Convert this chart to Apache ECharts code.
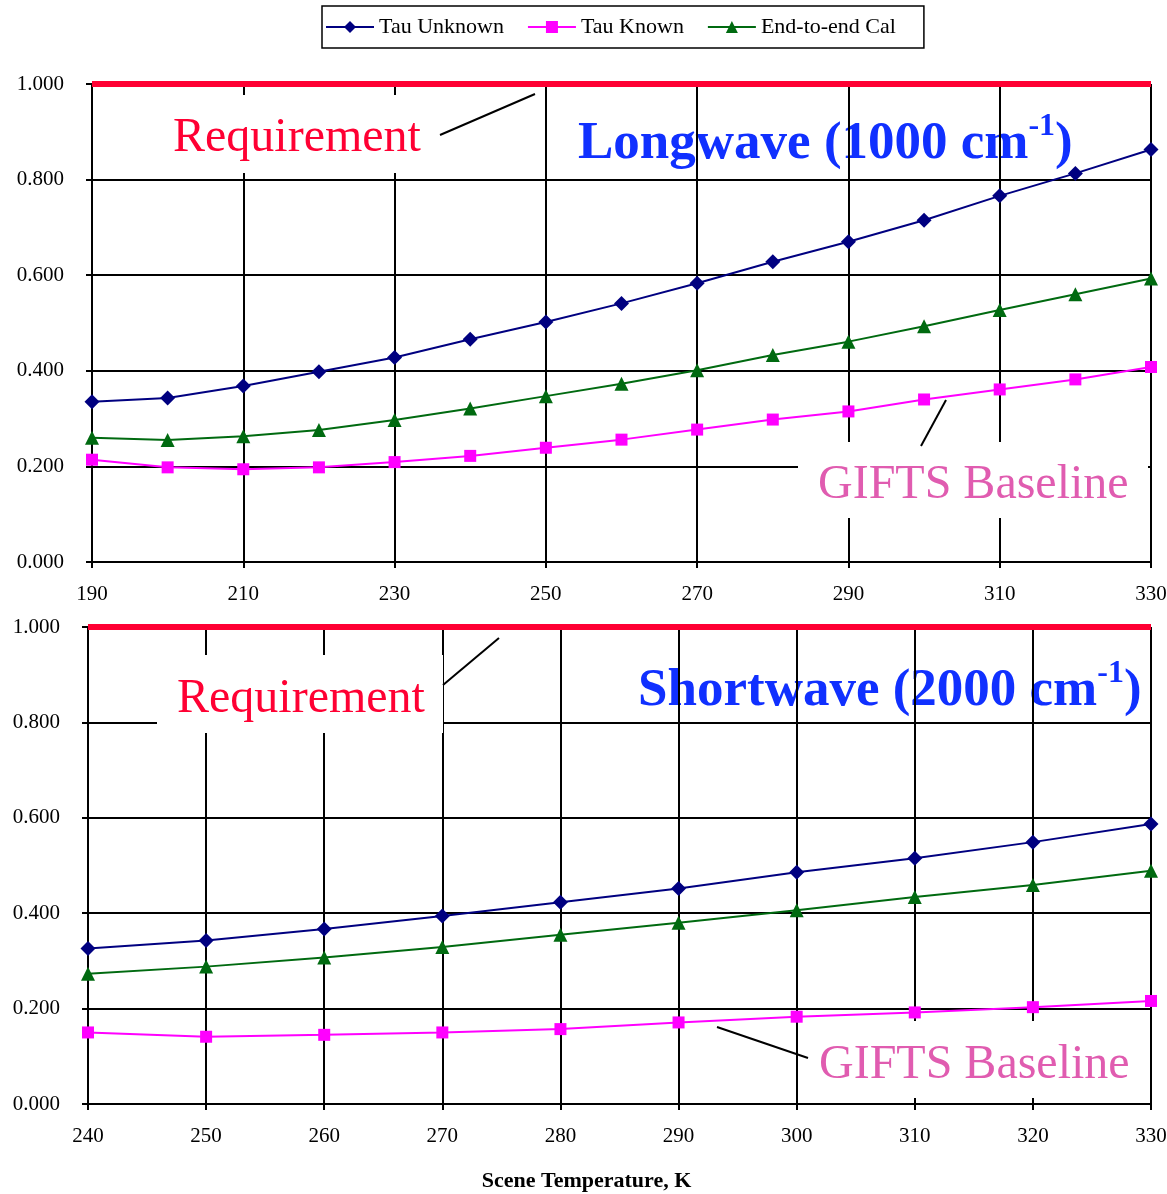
<!DOCTYPE html>
<html>
<head>
<meta charset="utf-8">
<script src="https://cdn.jsdelivr.net/npm/echarts@6/dist/echarts.min.js"></script>
<style>html,body{margin:0;padding:0;background:#fff}#c{width:1167px;height:1194px}</style>
</head>
<body>
<div id="c"></div>
<script>
// ---- data ----
const lwTemps = ['190','200','210','220','230','240','250','260','270','280','290','300','310','320','330'];
const lwTauUnknown = [0.335,0.343,0.368,0.398,0.428,0.466,0.502,0.541,0.583,0.628,0.670,0.715,0.766,0.813,0.863];
const lwTauKnown   = [0.214,0.198,0.194,0.198,0.209,0.222,0.239,0.256,0.277,0.298,0.315,0.340,0.361,0.382,0.408];
const lwEndToEnd   = [0.260,0.255,0.263,0.276,0.297,0.321,0.347,0.373,0.401,0.433,0.461,0.493,0.527,0.560,0.593];

const swTemps = [240,250,260,270,280,290,300,310,320,330];
const swTauUnknown = [0.326,0.343,0.367,0.394,0.423,0.452,0.486,0.515,0.549,0.587];
const swTauKnown   = [0.150,0.141,0.145,0.150,0.157,0.171,0.183,0.192,0.203,0.216];
const swEndToEnd   = [0.273,0.288,0.307,0.329,0.355,0.380,0.406,0.434,0.459,0.489];

const requirement = 1.0;
const seriesNames = ['Tau Unknown','Tau Known','End-to-end Cal'];

const FONT = '"Liberation Serif","Times New Roman",serif';
const C_NAVY = '#000080', C_MAG = '#ff00ff', C_GREEN = '#006a10';
const C_RED = '#ff0033', C_BLUE = '#1030ff', C_PINK = '#e05cb0';

const chart = echarts.init(document.getElementById('c'));

function yAxis(gi){
  return {
    type:'value', gridIndex:gi, min:0, max:1, interval:0.2,
    axisLine:{show:true, lineStyle:{color:'#000', width:2}},
    axisTick:{show:true, length:6, lineStyle:{color:'#000', width:2}},
    axisLabel:{margin:28, color:'#000', fontFamily:FONT, fontSize:21, formatter:v=>v.toFixed(3)},
    splitLine:{show:true, lineStyle:{color:'#000', width:2}}
  };
}
const axisLblX = {margin:22, color:'#000', fontFamily:FONT, fontSize:21};

function mk(name, data, gi, color, symbol, size){
  return {
    name, type:'line', xAxisIndex:gi, yAxisIndex:gi, data,
    symbol, symbolSize:size, clip:false,
    lineStyle:{color, width:2}, itemStyle:{color},
    z:3, animation:false
  };
}
function reqLine(gi){
  return {
    type:'line', xAxisIndex:gi, yAxisIndex:gi, data:[], silent:true,
    markLine:{silent:true, symbol:'none', label:{show:false},
      lineStyle:{color:C_RED, width:6, type:'solid'},
      data:[{yAxis:requirement}]},
    z:4, animation:false
  };
}

const swData = arr => swTemps.map((t,i)=>[t, arr[i]]);
const titleRich = {
  a:{fontFamily:FONT, fontSize:53, fontWeight:'bold', fill:C_BLUE, lineHeight:60, verticalAlign:'bottom'},
  s:{fontFamily:FONT, fontSize:32, fontWeight:'bold', fill:C_BLUE, lineHeight:50, verticalAlign:'top'}
};

chart.setOption({
  backgroundColor:'#fff',
  animation:false,
  legend:{
    data:seriesNames, left:322, top:6,
    padding:[10,28,10,3], itemGap:23, itemWidth:48, itemHeight:15,
    borderColor:'#000', borderWidth:1.5,
    textStyle:{fontFamily:FONT, fontSize:22, color:'#000'}
  },
  grid:[
    {left:92, right:16, top:84, height:478, outerBoundsMode:'none', containLabel:false},
    {left:88, right:16, top:627, height:477, outerBoundsMode:'none', containLabel:false}
  ],
  xAxis:[
    {type:'category', gridIndex:0, data:lwTemps, boundaryGap:false,
     axisLine:{lineStyle:{color:'#000', width:2}},
     axisTick:{show:true, interval:1, length:6, lineStyle:{color:'#000', width:2}},
     axisLabel:Object.assign({interval:1}, axisLblX),
     splitLine:{show:true, interval:1, lineStyle:{color:'#000', width:2}}},
    {type:'value', gridIndex:1, min:240, max:330, interval:10,
     axisLine:{lineStyle:{color:'#000', width:2}},
     axisTick:{show:true, length:6, lineStyle:{color:'#000', width:2}},
     axisLabel:axisLblX,
     splitLine:{show:true, lineStyle:{color:'#000', width:2}},
     name:'Scene Temperature, K', nameLocation:'middle', nameGap:66,
     nameTextStyle:{fontFamily:FONT, fontSize:22, fontWeight:'bold', color:'#000', padding:[0,66,0,0]}}
  ],
  yAxis:[yAxis(0), yAxis(1)],
  series:[
    reqLine(0), reqLine(1),
    mk(seriesNames[0], lwTauUnknown, 0, C_NAVY, 'diamond', 15),
    mk(seriesNames[1], lwTauKnown, 0, C_MAG, 'rect', 12),
    mk(seriesNames[2], lwEndToEnd, 0, C_GREEN, 'triangle', 14),
    mk(seriesNames[0], swData(swTauUnknown), 1, C_NAVY, 'diamond', 15),
    mk(seriesNames[1], swData(swTauKnown), 1, C_MAG, 'rect', 12),
    mk(seriesNames[2], swData(swEndToEnd), 1, C_GREEN, 'triangle', 14)
  ],
  graphic:[
    // titles (beneath grid lines)
    {type:'text', z:-1, left:578, top:111, style:{text:'{a|Longwave (1000 cm}{s|-1}{a|)}', rich:titleRich}},
    {type:'text', z:-1, left:638, top:658, style:{text:'{a|Shortwave (2000 cm}{s|-1}{a|)}', rich:titleRich}},
    // white label boxes
    {type:'rect', z:1, shape:{x:165, y:95, width:265, height:78}, style:{fill:'#fff'}},
    {type:'rect', z:1, shape:{x:798, y:442, width:350, height:76}, style:{fill:'#fff'}},
    {type:'rect', z:1, shape:{x:157, y:655, width:286, height:78}, style:{fill:'#fff'}},
    {type:'rect', z:1, shape:{x:810, y:1021, width:338, height:77}, style:{fill:'#fff'}},
    // labels
    {type:'text', z:2, left:173, top:114, style:{text:'Requirement', fontFamily:FONT, fontSize:48, fill:C_RED}},
    {type:'text', z:2, left:818, top:461, style:{text:'GIFTS Baseline', fontFamily:FONT, fontSize:48, fill:C_PINK}},
    {type:'text', z:2, left:177, top:675, style:{text:'Requirement', fontFamily:FONT, fontSize:48, fill:C_RED}},
    {type:'text', z:2, left:819, top:1041, style:{text:'GIFTS Baseline', fontFamily:FONT, fontSize:48, fill:C_PINK}},
    // leader lines
    {type:'line', z:3, shape:{x1:440, y1:135, x2:535, y2:94}, style:{stroke:'#000', lineWidth:2}},
    {type:'line', z:3, shape:{x1:921, y1:446, x2:946, y2:400}, style:{stroke:'#000', lineWidth:2}},
    {type:'line', z:3, shape:{x1:443, y1:685, x2:499, y2:638}, style:{stroke:'#000', lineWidth:2}},
    {type:'line', z:3, shape:{x1:717, y1:1027, x2:808, y2:1058}, style:{stroke:'#000', lineWidth:2}}
  ]
});
</script>
</body>
</html>
